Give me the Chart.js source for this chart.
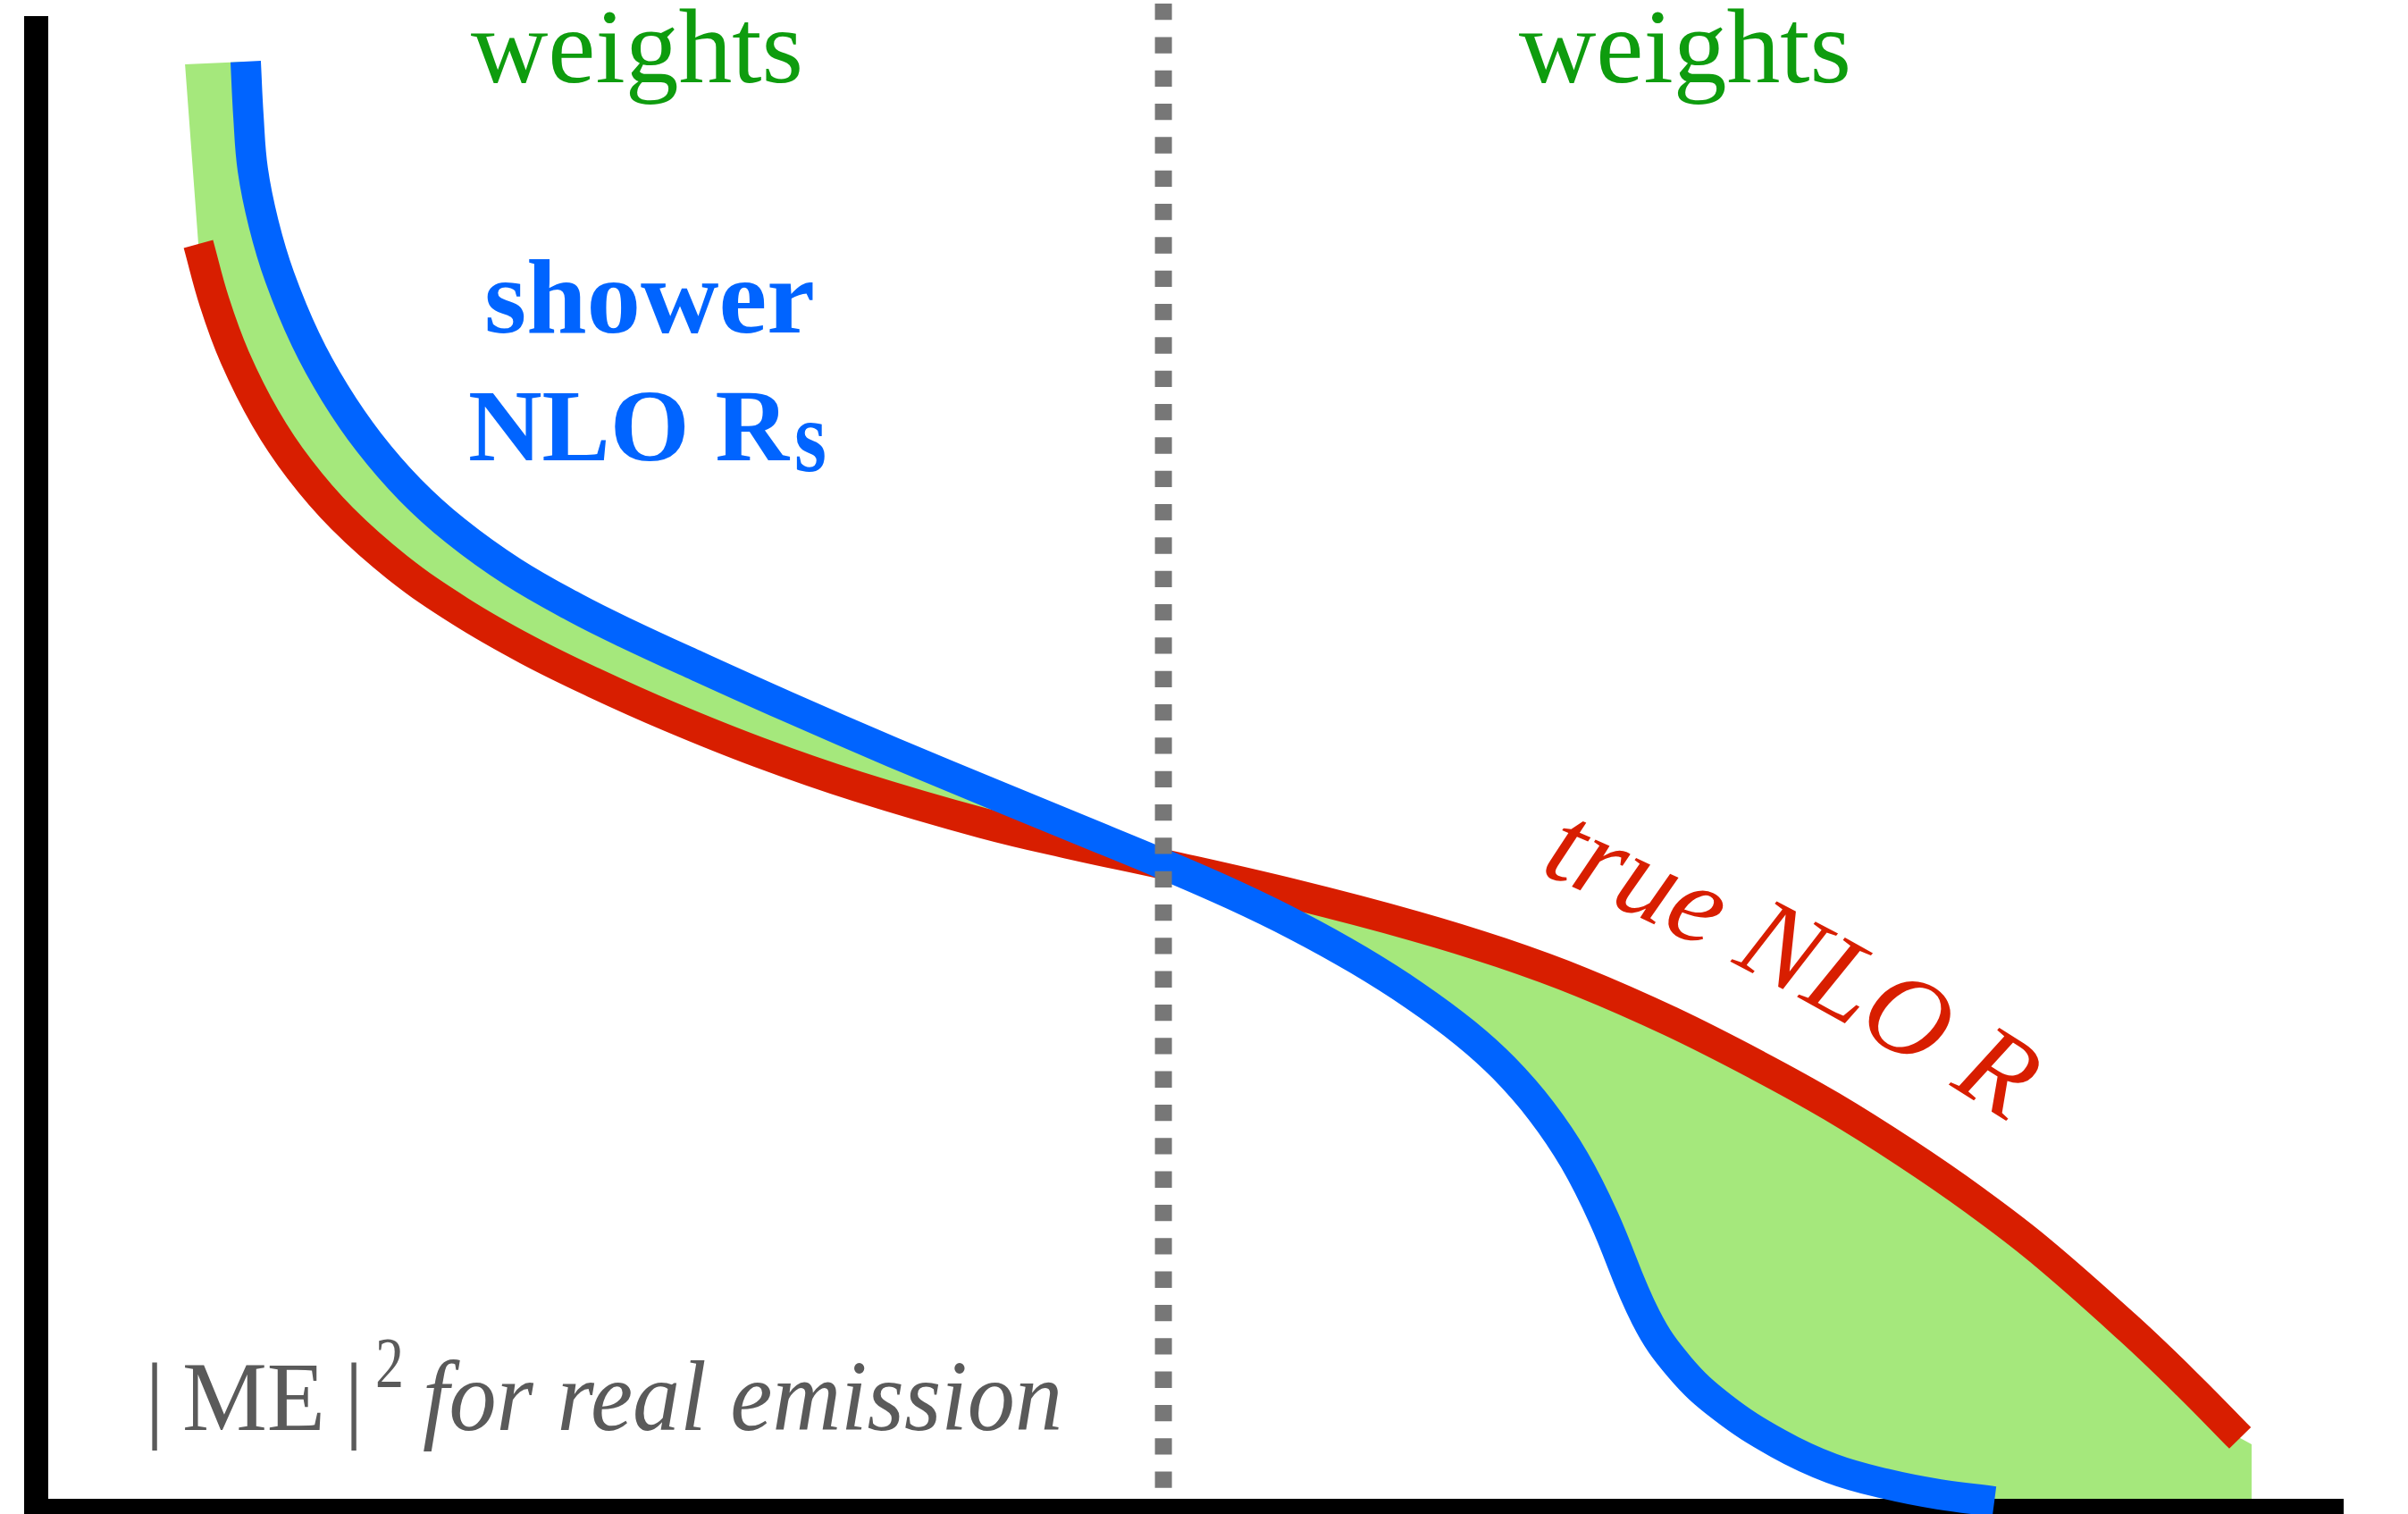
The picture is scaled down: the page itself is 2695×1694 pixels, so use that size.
<!DOCTYPE html>
<html><head><meta charset="utf-8">
<script src="https://cdn.jsdelivr.net/npm/chart.js@4.4.1/dist/chart.umd.min.js"></script>
<style>html,body{margin:0;padding:0;background:#fff;overflow:hidden}canvas{display:block}</style>
</head><body>
<canvas id="c" width="2695" height="1694"></canvas>
<script>
// ---- data (x: 0..100 along the horizontal axis, y: 0..100 up the vertical axis) ----
const blueX = [8.75, 8.87, 9.06, 9.53, 10.23, 11.36, 12.64, 14.12, 15.91, 17.89, 20.38, 23.10, 25.28, 28.39, 32.28, 36.95, 41.62, 45.12, 48.70, 51.73, 54.45, 57.18, 59.63, 61.84, 63.52, 65.15, 66.59, 67.87, 69.70, 71.18, 73.01, 75.46, 77.79, 80.12, 82.46, 84.87];
const blueY = [96.87, 93.19, 89.58, 85.96, 82.35, 78.13, 74.52, 71.20, 68.01, 65.24, 62.47, 60.06, 58.37, 56.14, 53.43, 50.30, 47.29, 45.06, 42.77, 40.72, 38.67, 36.33, 33.92, 31.39, 29.04, 26.14, 22.83, 18.92, 12.23, 8.86, 6.20, 3.73, 2.05, 1.02, 0.30, -0.18];
const redX = [6.69, 7.39, 8.28, 9.61, 11.09, 12.95, 15.36, 18.09, 21.00, 23.92, 27.23, 31.12, 35.39, 40.84, 44.73, 48.70, 54.45, 59.63, 63.40, 66.90, 70.79, 74.56, 77.79, 81.02, 84.01, 86.85, 90.74, 93.35, 95.57];
const redY = [84.58, 80.66, 76.93, 72.83, 69.40, 66.08, 62.77, 59.82, 57.23, 55.00, 52.71, 50.30, 48.01, 45.54, 44.10, 42.77, 40.72, 38.61, 36.81, 34.82, 32.17, 29.22, 26.45, 23.31, 20.12, 16.75, 11.45, 7.59, 4.10];
// corners that close the "weights" band
const bandTopX = [6.11];
const bandTopY = [96.69];
const bandFootX = [84.87, 96.07, 96.07];
const bandFootY = [0, 0, 3.67];
// dotted divider
const dividerX = [48.70, 48.70];
const dividerY = [100.78, 0.72];

const pts = (xs, ys) => xs.map((x, i) => ({x, y: ys[i]}));
const bluePts = pts(blueX, blueY);
const redPts = pts(redX, redY);
const bandPts = [].concat(pts(bandTopX, bandTopY), bluePts, pts(bandFootX, bandFootY), redPts.slice().reverse());

const SERIF = '"Liberation Serif", "DejaVu Serif", serif';
const COL = {green: '#a5e87c', greenText: '#0e9c0e', blue: '#0064ff', red: '#d81e00', gray: '#5a5a5a', dots: '#777777'};

const axesPlugin = {
  id: 'axesBars',
  beforeDatasetsDraw(chart) {
    const {ctx, chartArea: a} = chart;
    ctx.save();
    ctx.fillStyle = '#000';
    ctx.fillRect(a.left - 23, a.top + 1, 27, chart.height - a.top);
    ctx.fillRect(a.left - 23, a.bottom, a.right + 2 - (a.left - 23), 17);
    ctx.restore();
  }
};

function fitText(ctx, text, font, color, left, baseline, width) {
  ctx.save();
  ctx.font = font;
  ctx.fillStyle = color;
  ctx.textBaseline = 'alphabetic';
  ctx.textAlign = 'left';
  const w = ctx.measureText(text).width;
  ctx.translate(left, baseline);
  ctx.scale(width / w, 1);
  ctx.fillText(text, 0, 0);
  ctx.restore();
}

const textPlugin = {
  id: 'labels',
  afterDraw(chart) {
    const ctx = chart.ctx;
    fitText(ctx, 'weights', '118px ' + SERIF, COL.greenText, 527, 92, 372);
    fitText(ctx, 'weights', '118px ' + SERIF, COL.greenText, 1700, 92, 372);
    fitText(ctx, 'shower', 'bold 118px ' + SERIF, COL.blue, 542, 372, 370);
    fitText(ctx, 'NLO R', 'bold 114px ' + SERIF, COL.blue, 524, 515, 359);
    fitText(ctx, 's', 'bold 114px ' + SERIF, COL.blue, 889, 527, 36);
    // |ME|^2 for real emission
    ctx.save();
    ctx.font = '108px ' + SERIF; ctx.fillStyle = COL.gray; ctx.textAlign = 'center';
    ctx.fillText('|', 173, 1600);
    ctx.fillText('|', 396, 1600);
    ctx.restore();
    fitText(ctx, 'ME', '110px ' + SERIF, COL.gray, 204, 1600, 160);
    fitText(ctx, '2', '80px ' + SERIF, COL.gray, 420, 1552, 32);
    fitText(ctx, 'for real emission', 'italic 112px ' + SERIF, COL.gray, 473, 1600, 716);
    // true NLO R along the curve
    ctx.save();
    ctx.font = 'italic 128px ' + SERIF;
    ctx.fillStyle = COL.red;
    const s = 'true NLO R';
    const ws = [...s].map(ch => ctx.measureText(ch).width);
    const nat = ws.reduce((p, c) => p + c, 0);
    const total = 596;
    const extra = (total - nat) / (s.length - 1);
    const a0 = 23 * Math.PI / 180, a1 = 33 * Math.PI / 180;
    let x = 1722, y = 976, run = 0;
    [...s].forEach((ch, i) => {
      const th = a0 + (a1 - a0) * ((run + ws[i] / 2) / total);
      ctx.save(); ctx.translate(x, y); ctx.rotate(th); ctx.fillText(ch, 0, 0); ctx.restore();
      const adv = ws[i] + extra;
      x += adv * Math.cos(th); y += adv * Math.sin(th);
      run += adv;
    });
    ctx.restore();
  }
};

new Chart(document.getElementById('c'), {
  type: 'scatter',
  data: {
    datasets: [
      {label: 'divider', data: pts(dividerX, dividerY), showLine: true, borderColor: COL.dots, borderWidth: 19,
       borderDash: [18.3, 19.03], borderCapStyle: 'butt', pointRadius: 0, tension: 0, fill: false, clip: false},
      {label: 'shower NLO Rs', data: bluePts, showLine: true, borderColor: COL.blue, borderWidth: 34,
       borderCapStyle: 'butt', pointRadius: 0, tension: 0.4, fill: false, clip: false},
      {label: 'true NLO R', data: redPts, showLine: true, borderColor: COL.red, borderWidth: 34,
       borderCapStyle: 'butt', pointRadius: 0, tension: 0.4, fill: false, clip: false},
      {label: 'weights', data: bandPts, showLine: true, borderColor: 'rgba(0,0,0,0)', borderWidth: 0,
       backgroundColor: COL.green, pointRadius: 0, tension: 0, fill: 'shape', clip: false}
    ]
  },
  options: {
    responsive: false, devicePixelRatio: 1, animation: false,
    elements: {line: {capBezierPoints: false}},
    layout: {padding: {left: 50, right: 74, top: 17, bottom: 17}},
    scales: {
      x: {type: 'linear', min: 0, max: 100, display: false},
      y: {type: 'linear', min: 0, max: 100, display: false}
    },
    plugins: {legend: {display: false}, tooltip: {enabled: false}}
  },
  plugins: [axesPlugin, textPlugin]
});
</script>
</body></html>
